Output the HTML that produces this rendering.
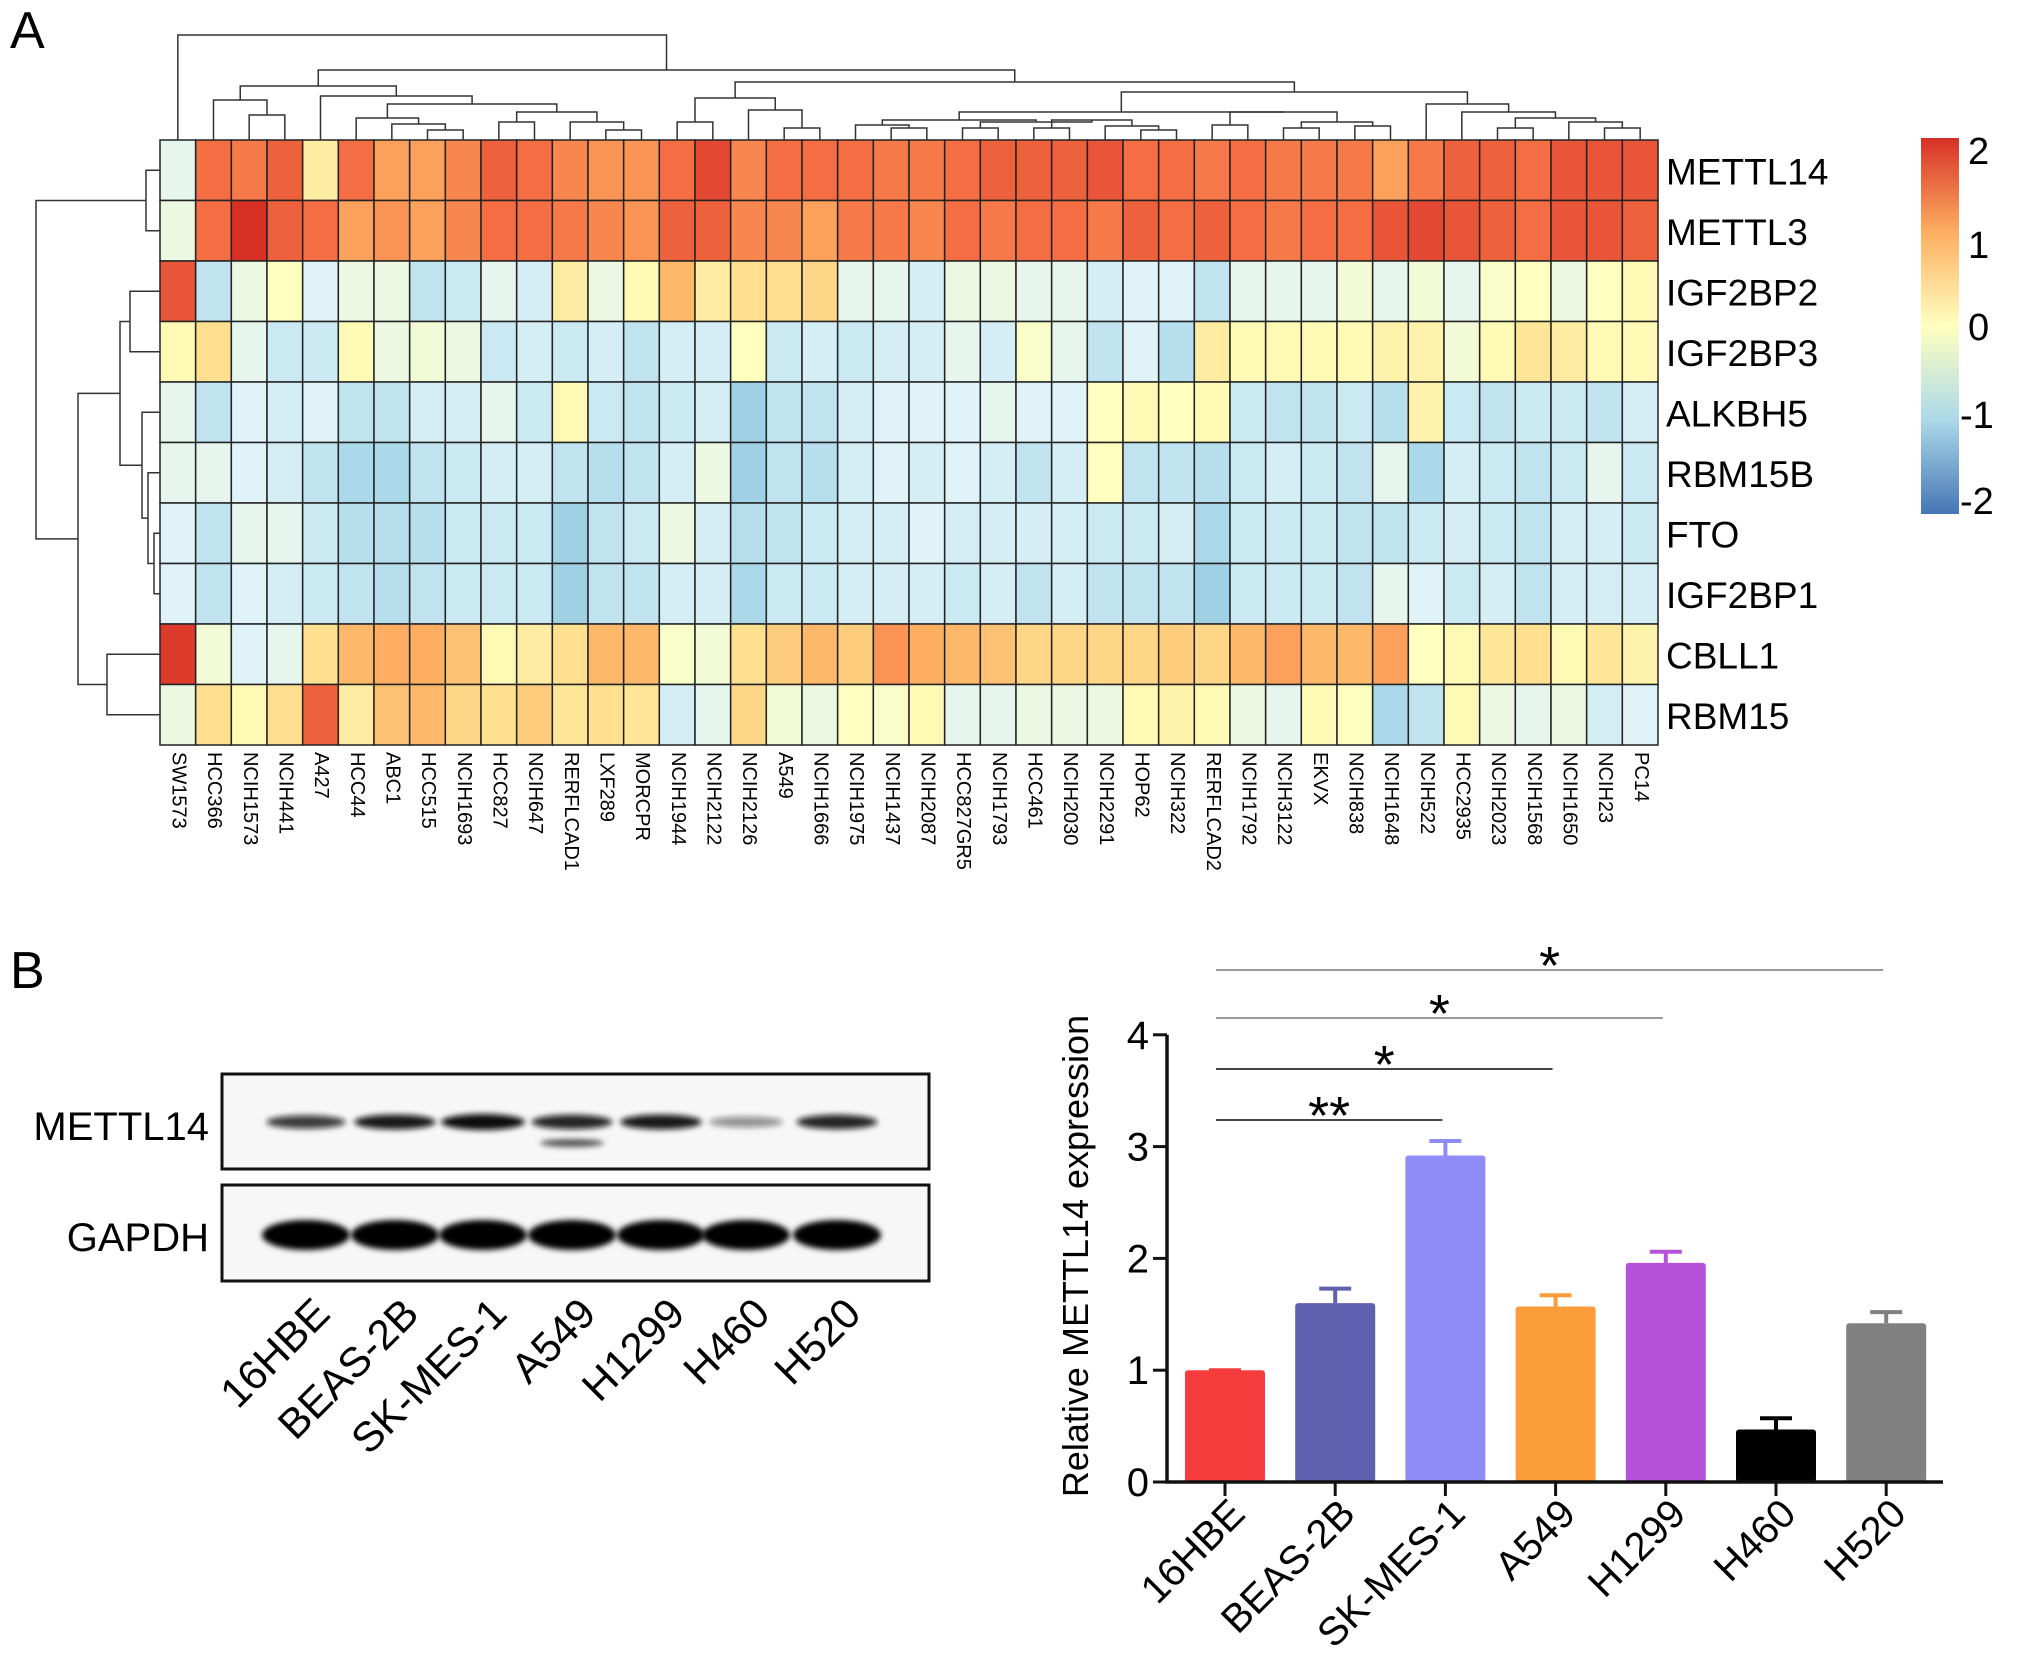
<!DOCTYPE html>
<html><head><meta charset="utf-8"><style>
html,body{margin:0;padding:0;background:#fff}
svg{display:block;font-family:"Liberation Sans",Arial,sans-serif}
</style></head><body>
<svg id="fig" width="2031" height="1654" viewBox="0 0 2031 1654" xmlns="http://www.w3.org/2000/svg">
<text x="10" y="48" font-size="52">A</text>
<text x="10" y="988" font-size="52">B</text>
<g id="heat"></g>
<g id="dend" stroke="#333" stroke-width="1.5" fill="none"></g>
<defs><linearGradient id="cbg" x1="0" y1="1" x2="0" y2="0">
<stop offset="0" stop-color="#4575b4"/><stop offset="0.25" stop-color="#abd9e9"/><stop offset="0.5" stop-color="#ffffbf"/><stop offset="0.75" stop-color="#fdae61"/><stop offset="1" stop-color="#d73027"/></linearGradient></defs>
<rect x="1921" y="138" width="38" height="376" fill="url(#cbg)"/>
<g font-size="38">
<text x="1968" y="164">2</text><text x="1968" y="258">1</text><text x="1968" y="340">0</text><text x="1960" y="428">-1</text><text x="1960" y="514">-2</text></g>
<g id="blot"></g>
<g id="bar"></g>
</svg>
<script>
const genes=["METTL14","METTL3","IGF2BP2","IGF2BP3","ALKBH5","RBM15B","FTO","IGF2BP1","CBLL1","RBM15"];
const cells=["SW1573","HCC366","NCIH1573","NCIH441","A427","HCC44","ABC1","HCC515","NCIH1693","HCC827","NCIH647","RERFLCAD1","LXF289","MORCPR","NCIH1944","NCIH2122","NCIH2126","A549","NCIH1666","NCIH1975","NCIH1437","NCIH2087","HCC827GR5","NCIH1793","HCC461","NCIH2030","NCIH2291","HOP62","NCIH322","RERFLCAD2","NCIH1792","NCIH3122","EKVX","NCIH838","NCIH1648","NCIH522","HCC2935","NCIH2023","NCIH1568","NCIH1650","NCIH23","PC14"];
const rowMETTL14=[-0.4,1.5,1.4,1.6,0.3,1.5,1.1,1.1,1.3,1.6,1.5,1.3,1.2,1.2,1.5,1.8,1.3,1.5,1.5,1.5,1.4,1.4,1.5,1.6,1.6,1.6,1.7,1.5,1.5,1.4,1.5,1.4,1.4,1.4,1.1,1.4,1.6,1.6,1.5,1.7,1.7,1.7];
const rowMETTL3=[-0.3,1.5,2.0,1.6,1.5,1.1,1.2,1.1,1.3,1.5,1.5,1.4,1.3,1.2,1.6,1.6,1.3,1.3,1.1,1.4,1.4,1.3,1.5,1.4,1.5,1.5,1.4,1.6,1.5,1.6,1.5,1.4,1.5,1.5,1.7,1.8,1.7,1.6,1.5,1.7,1.7,1.6];
const rowIGF2BP2=[1.7,-0.8,-0.3,0.0,-0.5,-0.3,-0.3,-0.8,-0.7,-0.4,-0.6,0.3,-0.3,0.1,0.9,0.3,0.5,0.5,0.6,-0.4,-0.4,-0.6,-0.3,-0.3,-0.4,-0.4,-0.6,-0.5,-0.5,-0.8,-0.4,-0.4,-0.4,-0.2,-0.4,-0.2,-0.4,-0.1,0.0,-0.3,0.0,0.1];
const rowIGF2BP3=[0.1,0.5,-0.4,-0.7,-0.7,0.1,-0.3,-0.2,-0.3,-0.7,-0.6,-0.7,-0.6,-0.8,-0.6,-0.6,0.0,-0.7,-0.6,-0.7,-0.6,-0.6,-0.4,-0.6,-0.1,-0.4,-0.8,-0.5,-0.9,0.3,0.1,0.1,0.1,0.1,0.2,0.2,-0.2,0.1,0.4,0.3,0.1,0.1];
const rowALKBH5=[-0.4,-0.8,-0.5,-0.6,-0.5,-0.8,-0.8,-0.6,-0.6,-0.4,-0.7,0.1,-0.7,-0.8,-0.7,-0.6,-1.1,-0.8,-0.8,-0.6,-0.5,-0.5,-0.5,-0.4,-0.5,-0.5,0.0,0.1,0.0,0.1,-0.7,-0.8,-0.8,-0.7,-0.9,0.2,-0.7,-0.8,-0.7,-0.7,-0.8,-0.6];
const rowRBM15B=[-0.4,-0.4,-0.5,-0.6,-0.8,-1.0,-1.0,-0.8,-0.7,-0.6,-0.6,-0.8,-0.9,-0.8,-0.6,-0.3,-1.1,-0.8,-0.9,-0.6,-0.5,-0.6,-0.5,-0.6,-0.8,-0.6,0.0,-0.8,-0.8,-0.9,-0.7,-0.6,-0.7,-0.8,-0.4,-1.0,-0.6,-0.7,-0.8,-0.7,-0.4,-0.7];
const rowFTO=[-0.5,-0.8,-0.4,-0.4,-0.7,-0.9,-0.9,-0.9,-0.7,-0.7,-0.7,-1.1,-0.8,-0.7,-0.3,-0.6,-0.9,-0.8,-0.7,-0.6,-0.6,-0.5,-0.6,-0.6,-0.6,-0.6,-0.7,-0.7,-0.6,-1.0,-0.7,-0.7,-0.7,-0.8,-0.8,-0.7,-0.6,-0.7,-0.8,-0.6,-0.6,-0.7];
const rowIGF2BP1=[-0.5,-0.8,-0.5,-0.6,-0.7,-0.8,-0.9,-0.8,-0.7,-0.7,-0.7,-1.1,-0.8,-0.8,-0.6,-0.6,-1.0,-0.7,-0.7,-0.6,-0.6,-0.6,-0.7,-0.6,-0.8,-0.6,-0.8,-0.8,-0.8,-1.1,-0.7,-0.7,-0.7,-0.8,-0.4,-0.5,-0.7,-0.6,-0.8,-0.6,-0.6,-0.6];
const rowCBLL1=[1.9,-0.2,-0.5,-0.4,0.5,0.9,1.0,1.0,0.8,0.1,0.3,0.5,0.9,0.9,-0.1,-0.2,0.5,0.7,0.9,0.7,1.2,1.0,0.9,0.8,0.6,0.6,0.6,0.6,0.7,0.6,0.9,1.1,0.9,0.9,1.1,0.0,0.1,0.4,0.5,0.1,0.4,0.2];
const rowRBM15=[-0.3,0.5,0.1,0.5,1.6,0.3,0.8,0.9,0.6,0.5,0.7,0.4,0.5,0.4,-0.6,-0.4,0.6,-0.2,-0.3,0.0,-0.1,0.1,-0.4,-0.4,-0.3,-0.3,-0.3,0.1,0.2,0.1,-0.3,-0.4,0.1,0.0,-1.0,-0.8,0.1,-0.3,-0.4,-0.3,-0.6,-0.5];
const matrix=[rowMETTL14,rowMETTL3,rowIGF2BP2,rowIGF2BP3,rowALKBH5,rowRBM15B,rowFTO,rowIGF2BP1,rowCBLL1,rowRBM15];

const barCats=["16HBE","BEAS-2B","SK-MES-1","A549","H1299","H460","H520"];
const barVals=[1.0,1.6,2.92,1.57,1.96,0.47,1.42];
const barErr=[0,0.13,0.13,0.1,0.1,0.1,0.1];
const yTicks=[0,1,2,3,4];
const sigPairs=[[0,2,"**"],[0,3,"*"],[0,4,"*"],[0,6,"*"]];
const blotMETTL14=[0.7,0.85,1.0,0.8,0.85,0.35,0.8];

const NS="http://www.w3.org/2000/svg";
function mk(tag,attrs,parent,txt){const e=document.createElementNS(NS,tag);for(const k in attrs)e.setAttribute(k,attrs[k]);if(txt!==undefined)e.textContent=txt;parent.appendChild(e);return e;}
const stops=[[-2,[69,117,180]],[-1.5,[116,173,209]],[-1,[171,217,233]],[-0.5,[224,243,248]],[0,[255,255,191]],[0.5,[254,224,144]],[1,[253,174,97]],[1.5,[244,109,67]],[2,[215,48,39]]];
function col(v){v=Math.max(-2,Math.min(2,v));for(let i=0;i<stops.length-1;i++){const[a,ca]=stops[i],[b,cb]=stops[i+1];if(v<=b){const t=(v-a)/(b-a);return "rgb("+ca.map((c,j)=>Math.round(c+(cb[j]-c)*t)).join(",")+")";}}return "rgb(215,48,39)";}
const HX0=160,HX1=1658,HY0=140,HY1=745;
const cw=(HX1-HX0)/cells.length,ch=(HY1-HY0)/genes.length;
const hx=i=>HX0+i*cw, hy=j=>HY0+j*ch;
const heat=document.getElementById('heat');
matrix.forEach((row,j)=>row.forEach((v,i)=>{
 const r=mk('rect',{x:hx(i),y:hy(j),width:cw,height:ch,fill:col(v),stroke:'#222','stroke-width':1.5},heat);
 
 
}));
genes.forEach((g,j)=>{const t=mk('text',{x:1666,y:hy(j)+ch/2+14,'font-size':37},heat,g);
 
 });
cells.forEach((c,i)=>{const x=hx(i)+cw/2;const t=mk('text',{x:x,y:752,'font-size':20,transform:`rotate(90 ${x} 752)`,'dominant-baseline':'middle'},heat,c);
 
 });
const dend=document.getElementById('dend');
const colTree=[35,0,[70,[86,[100,1,[115,2,3]],[96,4,[104,[118,5,[124,6,[130,7,8]]],[112,[122,9,10],[122,11,[130,12,13]]]]]],[82,[98,[122,14,15],[110,16,[128,17,18]]],[92,[112,[120,[125,19,[128,20,21]],[122,[128,22,23],[120,[128,24,25],[126,26,[130,27,28]]]]],[112,[125,29,30],[122,[128,31,32],[126,33,34]]]],[104,35,[112,36,[118,[128,37,38],[122,39,[128,40,41]]]]]]]]];
const rowTree=[36,[146,0,1],[78,[120,[130,2,3],[142,4,[148,5,[154,6,7]]]],[107,8,9]]];
function drawCol(n){if(typeof n==='number')return[hx(n)+cw/2,HY0];const a=drawCol(n[1]),b=drawCol(n[2]),h=n[0];
 mk('path',{d:`M${a[0]},${a[1]}V${h}H${b[0]}V${b[1]}`},dend);return[(a[0]+b[0])/2,h];}
function drawRow(n){if(typeof n==='number')return[HX0,hy(n)+ch/2];const a=drawRow(n[1]),b=drawRow(n[2]),h=n[0];
 mk('path',{d:`M${a[0]},${a[1]}H${h}V${b[1]}H${b[0]}`},dend);return[h,(a[1]+b[1])/2];}
drawCol(colTree);drawRow(rowTree);
const blot=document.getElementById('blot');
const lanes=[306,395,483,572,661,746,837];
mk('defs',{},blot).innerHTML='<filter id="bl" x="-20%" y="-100%" width="140%" height="300%"><feGaussianBlur stdDeviation="3"/></filter>';
mk('rect',{x:222,y:1074,width:707,height:95,fill:'#f7f7f7',stroke:'#111','stroke-width':3},blot);
mk('rect',{x:222,y:1185,width:707,height:96,fill:'#f7f7f7',stroke:'#111','stroke-width':3},blot);
lanes.forEach((x,i)=>{const s=blotMETTL14[i];
 const b1=mk('ellipse',{cx:x,cy:1122,rx:34+8*s,ry:4+4*s,fill:'#111','fill-opacity':Math.min(1,s+0.1),filter:'url(#bl)'},blot);
 
 
 const b2=mk('ellipse',{cx:x,cy:1235,rx:44,ry:15,fill:'#050505',filter:'url(#bl)'},blot);
 
 
 const t=mk('text',{x:x+26,y:1316,'font-size':42,'text-anchor':'end',transform:`rotate(-45 ${x+26} 1316)`},blot,barCats[i]);
 
 });
mk('ellipse',{cx:572,cy:1143,rx:32,ry:4,fill:'#555',filter:'url(#bl)'},blot);
mk('text',{x:209,y:1140,'font-size':40,'text-anchor':'end'},blot,'METTL14');
mk('text',{x:209,y:1251,'font-size':40,'text-anchor':'end'},blot,'GAPDH');
const bar=document.getElementById('bar');
const AX=1167,AXR=1943,Y0=1482,PU=111.8;
const yS=v=>Y0-v*PU, xC=i=>1225+i*110.2;
const bcol=["#f53d3d","#6060b0","#8f8cf8","#fb9c3a","#b552d9","#000000","#808080"];
barVals.forEach((v,i)=>{const x=xC(i);
 const e=mk('path',{d:`M${x},${yS(v)}V${yS(v+barErr[i])}M${x-16},${yS(v+barErr[i])}H${x+16}`,stroke:bcol[i],'stroke-width':4,fill:'none'},bar);
 
 
 const r=mk('rect',{x:x-40,y:yS(v),width:80,height:Y0-yS(v),fill:bcol[i],rx:3},bar);
 
 
 mk('line',{x1:x,x2:x,y1:Y0,y2:Y0+14,stroke:'#111','stroke-width':3},bar);
 const t=mk('text',{x:x+22,y:Y0+34,'font-size':40,'text-anchor':'end',transform:`rotate(-45 ${x+22} ${Y0+34})`},bar,barCats[i]);
 
 });
mk('path',{d:`M${AX},${yS(4)}V${Y0}H${AXR}`,stroke:'#111','stroke-width':3.5,fill:'none'},bar);
yTicks.forEach(v=>{mk('line',{x1:AX-14,x2:AX,y1:yS(v),y2:yS(v),stroke:'#111','stroke-width':3},bar);
 const t=mk('text',{x:AX-18,y:yS(v)+14,'font-size':40,'text-anchor':'end'},bar,String(v));
 
 });
const yt=mk('text',{x:1088,y:1256,'font-size':36,'text-anchor':'middle',transform:'rotate(-90 1088 1256)'},bar,'Relative METTL14 expression');


const sigY=[1120,1069,1018,970];
sigPairs.forEach((p,k)=>{const x1=1216,x2=xC(p[1])-3,y=sigY[k];
 mk('line',{x1:x1,x2:x2,y1:y,y2:y,stroke:k<2?'#444':'#999','stroke-width':2},bar);
 const t=mk('text',{x:(x1+x2)/2,y:y+14,'font-size':54,'text-anchor':'middle'},bar,p[2]);
 
 });
</script>
</body></html>
